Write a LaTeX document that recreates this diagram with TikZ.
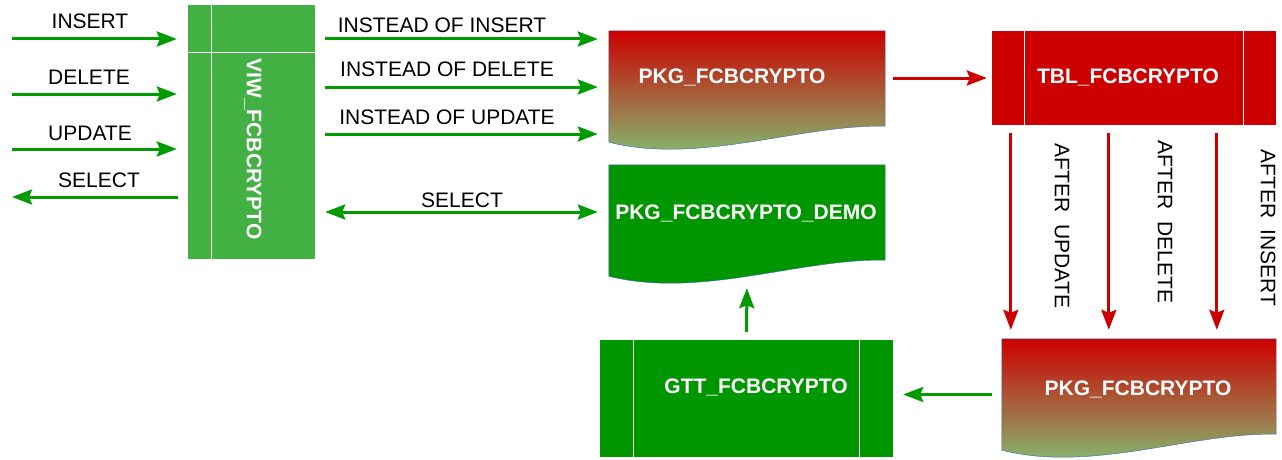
\documentclass[tikz,border=0pt]{standalone}
\usepackage{fontspec}
\setmainfont{Liberation Sans}
\usetikzlibrary{arrows.meta,calc}

\definecolor{viewgreen}{RGB}{67,176,67}
\definecolor{boxgreen}{RGB}{0,150,0}
\definecolor{arrowgreen}{RGB}{0,155,0}
\definecolor{tblred}{RGB}{204,0,0}
\definecolor{pkgred}{RGB}{204,0,0}
\definecolor{pkggreen}{RGB}{126,200,122}
\definecolor{docblue}{RGB}{52,101,164}

% document shape with a wavy bottom edge
\newcommand{\docshape}[2]{\path[#2] (#1.north west) -- (#1.north east) -- ($(#1.south east)+(0,-16)$) .. controls ($(#1.south east)+(-85,-18)$) and ($(#1.south west)+(91,23)$) .. (#1.south west) -- cycle;}

\begin{document}
\begin{tikzpicture}[x=1pt, y=-1pt]
	\tikzstyle{every node} = [font=\fontsize{21}{25}\selectfont, inner sep=0pt]
	\tikzstyle{box} = [rectangle, draw=none]
	\tikzstyle{boxtext} = [text=white, font=\fontsize{21}{25}\selectfont\bfseries]
	\tikzstyle{boxline} = [draw=white, line width=1pt]
	\tikzstyle{greenarrow} = [draw=arrowgreen, line width=3pt]
	\tikzstyle{redarrow} = [draw=tblred, line width=3pt]
	\tikzset{>={Stealth[length=20pt, width=15pt, inset=3pt]}}
	\useasboundingbox (0,0) rectangle (1282,460);

	% view
	\node[box, fill=viewgreen, minimum width=127pt, minimum height=254pt] (View) at (251.5,132) {};
	\draw[boxline] ([xshift=24pt]View.north west) -- ([xshift=24pt]View.south west);
	\draw[boxline] ([yshift=-48pt]View.north west) -- ([yshift=-48pt]View.north east);
	\node[boxtext, rotate=-90] (ViewText) at (253,149) {VIW\_FCBCRYPTO};

	% packages
	\node[box, minimum width=276pt, minimum height=111pt] (Pkg) at (747,86.5) {};
	\docshape{Pkg}{top color=pkgred, bottom color=pkggreen, draw=docblue}
	\node[boxtext] (PkgText) at (732,77) {PKG\_FCBCRYPTO};
	\node[box, minimum width=276pt, minimum height=111pt] (PkgDemo) at (747,220.5) {};
	\docshape{PkgDemo}{fill=boxgreen, draw=docblue}
	\node[boxtext] (PkgDemoText) at (746,213) {PKG\_FCBCRYPTO\_DEMO};
	\node[box, minimum width=274pt, minimum height=111pt] (PkgAfter) at (1139,394.5) {};
	\docshape{PkgAfter}{top color=pkgred, bottom color=pkggreen, draw=docblue}
	\node[boxtext] (PkgAfterText) at (1138,389) {PKG\_FCBCRYPTO};

	% tables
	\node[box, fill=tblred, minimum width=284pt, minimum height=94pt] (Tbl) at (1134,78) {};
	\draw[boxline] ([xshift=33pt]Tbl.north west) -- ([xshift=33pt]Tbl.south west);
	\draw[boxline] ([xshift=-33pt]Tbl.north east) -- ([xshift=-33pt]Tbl.south east);
	\node[boxtext] (TblText) at (1128,77) {TBL\_FCBCRYPTO};
	\node[box, fill=boxgreen, minimum width=293pt, minimum height=117pt] (Gtt) at (746.5,398.5) {};
	\draw[boxline] ([xshift=34pt]Gtt.north west) -- ([xshift=34pt]Gtt.south west);
	\draw[boxline] ([xshift=-34pt]Gtt.north east) -- ([xshift=-34pt]Gtt.south east);
	\node[boxtext] (GttText) at (756,387) {GTT\_FCBCRYPTO};

	% statements on the view
	\coordinate (InsertIn) at (12,39);
	\coordinate (DeleteIn) at (12,94);
	\coordinate (UpdateIn) at (12,149);
	\coordinate (SelectOut) at (12,197);
	\draw[greenarrow, ->, shorten >=11pt] (InsertIn) -- (View.west |- InsertIn);
	\draw[greenarrow, ->, shorten >=11pt] (DeleteIn) -- (View.west |- DeleteIn);
	\draw[greenarrow, ->, shorten >=11pt] (UpdateIn) -- (View.west |- UpdateIn);
	\draw[greenarrow, ->, shorten <=10pt] (View.west |- SelectOut) -- (SelectOut);
	\node (InsertLbl) at (90,21) {INSERT};
	\node (DeleteLbl) at (89,77) {DELETE};
	\node (UpdateLbl) at (90,133) {UPDATE};
	\node (SelectLbl) at (99,180) {SELECT};

	% instead of triggers
	\coordinate (InsteadIns) at (460,39);
	\coordinate (InsteadDel) at (460,87);
	\coordinate (InsteadUpd) at (460,134);
	\coordinate (SelectMid) at (460,212);
	\draw[greenarrow, ->, shorten <=10pt, shorten >=11pt] (View.east |- InsteadIns) -- (Pkg.west |- InsteadIns);
	\draw[greenarrow, ->, shorten <=10pt, shorten >=11pt] (View.east |- InsteadDel) -- (Pkg.west |- InsteadDel);
	\draw[greenarrow, ->, shorten <=10pt, shorten >=11pt] (View.east |- InsteadUpd) -- (Pkg.west |- InsteadUpd);
	\draw[greenarrow, <->, shorten <=10pt, shorten >=11pt] (View.east |- SelectMid) -- (PkgDemo.west |- SelectMid);
	\node (InsteadInsLbl) at (442,25) {INSTEAD OF INSERT};
	\node (InsteadDelLbl) at (447,69) {INSTEAD OF DELETE};
	\node (InsteadUpdLbl) at (447,117) {INSTEAD OF UPDATE};
	\node (SelectMidLbl) at (462,200) {SELECT};

	% package to table
	\draw[redarrow, ->, shorten <=8pt, shorten >=5pt] (Pkg.east |- Tbl.west) -- (Tbl.west);

	% after triggers
	\draw[redarrow, ->, shorten <=8pt, shorten >=9pt] ([xshift=19pt]Tbl.south west) -- ([xshift=9pt]PkgAfter.north west);
	\draw[redarrow, ->, shorten <=8pt, shorten >=9pt] ([xshift=117pt]Tbl.south west) -- ([xshift=107pt]PkgAfter.north west);
	\draw[redarrow, ->, shorten <=8pt, shorten >=9pt] ([xshift=225pt]Tbl.south west) -- ([xshift=215pt]PkgAfter.north west);
	\node[rotate=-90] (AfterUpdLbl) at (1062,226) {AFTER\ \ UPDATE};
	\node[rotate=-90] (AfterDelLbl) at (1165,222) {AFTER\ \ DELETE};
	\node[rotate=-90] (AfterInsLbl) at (1268,228) {AFTER\ \ INSERT};

	% temporary table and demo package
	\draw[greenarrow, ->, shorten <=10pt, shorten >=10pt] (PkgAfter.west) -- (Gtt.east |- PkgAfter.west);
	\draw[greenarrow, ->, shorten <=8pt, shorten >=12pt] (Gtt.north) -- (PkgDemo.south);
\end{tikzpicture}
\end{document}
